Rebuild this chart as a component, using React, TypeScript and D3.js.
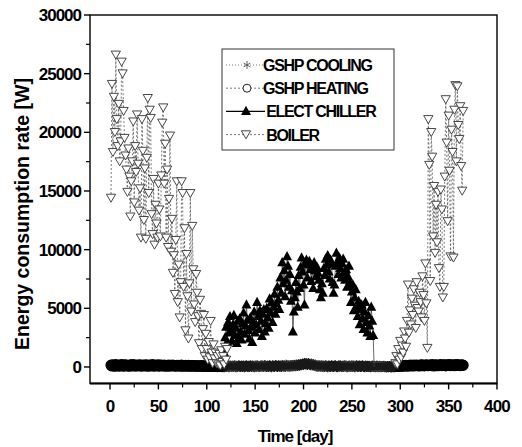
import * as d3 from "d3";

// daily energy consumption rate [W]
const boilerStartA = 1;
const boilerA = [
  14400, 24100, 18300, 23000, 20000, 26600, 21100, 18800, 22400, 17500,
  19200, 26000, 25000, 21800, 19500, 18000, 16800, 14900, 18600, 16200,
  12800, 15800, 17500, 20900, 14000, 18800, 16600, 21500, 17300, 13300,
  15200, 11000, 21100, 18400, 12500, 16900, 10900, 17800, 22900, 14800,
  21900, 21200, 13000, 11300, 16000, 10400, 13800, 12200, 11000, 15600,
  13400, 11100, 16300, 20800, 22100, 15600, 19000, 11000, 16800, 10200,
  14300, 19700, 9800, 12600, 8000, 9500, 6200, 10800, 15800, 5500,
  8700, 4200, 7200, 15800, 14800, 6800, 11800, 3100, 9600, 6000,
  2400, 7100, 14800, 4700, 12000, 8300, 5300, 3800, 7900, 6300,
  4300, 2000, 5700, 4500, 1500, 3200, 4400, 900, 2800, 1500,
  600, 2100, 800, 3900, 1200, 300, 1900, 700, 1200, 300,
  900, 200, 1100, 100, 1400, 400, 900, 200, 1700, 600, 1500,
];
const boilerStartB = 295;
const boilerB = [
  300, 900, 200, 1500, 600, 2200, 800, 1800, 1200, 3000,
  2400, 1700, 3900, 7000, 2900, 4800, 3600, 5800, 4400, 6600,
  5200, 3300, 7200, 5000, 4700, 6300, 5500, 4200, 7700, 6100,
  3900, 8800, 5400, 1600, 21100, 17200, 7300, 20000, 17900, 11100,
  15400, 9700, 13800, 10600, 14900, 8400, 6800, 15100, 13400, 5900,
  6800, 16200, 22800, 19100, 12400, 21400, 16700, 9400, 20200, 18300,
  9300, 21900, 24000, 17500, 23900, 20600, 19400, 22200, 17100, 15000, 21800,
];
const chillerStart = 118;
const chiller = [
  1200, 2500, 3400, 2100, 3800, 2900, 4300, 3100, 2200, 3600,
  4400, 2700, 3300, 2000, 3900, 2500, 4100, 3000, 2300, 3700,
  4600, 2800, 3500, 5300, 4000, 3100, 2400, 4200, 3400, 2100,
  3800, 4700, 2900, 3600, 5500, 4300, 3200, 4800, 3900, 2600,
  4500, 4900, 3000,
  3700, 5000, 4200, 3300, 5800, 4600, 5500, 3800, 5100, 6200,
  4500, 5400, 6800, 5700, 4900, 7600, 6300, 8900, 7100, 8200,
  6000, 7400, 9400, 8600, 6800, 7900, 5600, 6500, 3000, 4700,
  5900, 7200, 6400, 5100, 7800, 6700, 8500, 9300, 8100, 7000,
  5300, 8800, 9100, 7600, 8700, 9000, 8300, 7300, 8600, 6700,
  8900, 8200, 7700, 8500, 8000, 7400, 6600, 5900, 7100, 6300,
  8400, 7800, 9200, 8700, 9500, 8100, 7500, 9100, 8800, 7200,
  6300, 7000, 8600, 9700, 8900, 7900, 9300, 8400, 7600, 8800,
  9200, 8000, 7400, 8300, 6800, 7700, 8600, 7200, 5500, 6400,
  7000, 4800, 5900, 6600, 5100, 4300, 5600, 3600, 4900, 5300,
  4100, 3200, 4700, 5500, 3800, 2900, 4400, 3500, 2600, 5100,
  3900, 2700, 0,
];
const heatingStartA = 1;
const heatingA = [
  150, 90, 180, 120, 60, 200, 140, 100, 170, 80,
  130, 210, 110, 70, 160, 190, 90, 140, 120, 60,
  180, 150, 100, 200, 130, 80, 170, 110, 150, 90,
  190, 120, 70, 160, 140, 100, 180, 130, 60, 170,
  110, 150, 90, 200, 120, 80, 160, 140, 100, 180,
  70, 130, 150, 110, 90, 170, 120, 60, 140, 100,
  160, 80, 130, 110, 150, 90, 120, 70, 140, 100,
  130, 80, 110, 150, 60, 120, 90, 140, 70, 100,
  130, 80, 110, 60, 120, 90, 100, 70, 110, 80,
  60, 100, 90, 70, 120, 50, 80, 100, 60, 90,
  70, 40, 80, 60, 90, 50, 70, 40, 60, 80,
  30, 50, 70, 40, 60, 30, 50,
];
const heatingStartB = 295;
const heatingB = [
  40, 70, 50, 90, 60, 100, 80, 120, 70, 110,
  90, 130, 100, 80, 140, 110, 150, 90, 120, 160,
  100, 130, 170, 110, 140, 90, 150, 180, 120, 160,
  100, 140, 190, 130, 110, 170, 150, 120, 200, 140,
  90, 160, 180, 130, 110, 170, 150, 200, 120, 140,
  190, 160, 100, 180, 130, 150, 210, 120, 170, 140,
  190, 110, 160, 200, 130, 180, 150, 120, 170, 190, 140,
];
const coolingStart = 118;
const cooling = [
  20, 70, 40, 100, 50, 10, 80, 60, 30, 90,
  50, 110, 20, 70, 40, 100, 60, 30, 80, 50,
  90, 20, 60, 110, 40, 70, 30, 100, 50, 80,
  60, 20, 90, 40, 110, 70, 50, 30, 100, 60,
  80, 40, 120, 70, 30, 90, 50, 110, 60, 20,
  100, 70, 40, 130, 80, 50, 110, 60, 90, 30,
  120, 70, 100, 50, 140, 80, 110, 90, 70, 130,
  80, 120, 100, 150, 110, 160, 130, 190, 150, 220,
  180, 260, 210, 300, 250, 270, 220, 290, 230, 200,
  260, 170, 210, 130, 160, 90, 110, 70, 100, 80,
  60, 110, 30, 80, 50, 100, 70, 20, 90, 60,
  40, 110, 70, 30, 80, 100, 50, 20, 90, 60,
  110, 40, 70, 30, 100, 60, 80, 20, 50, 90,
  70, 30, 110, 50, 80, 20, 60, 100, 40, 70,
  90, 30, 60, 110, 50, 20, 80, 40, 70, 30,
  60, 20, 50, 90, 30, 70, 10, 50, 80, 20,
  40, 60, 10, 50, 30, 70, 20, 40, 0, 30, 10, 50, 20, 0, 40, 10, 20,
];

const xMajor = d3.range(0, 401, 50);
const xMinor = d3.range(25, 400, 50);
const yMajor = d3.range(0, 30001, 5000);
const yMinor = d3.range(2500, 30000, 5000);
const legendItems = ["GSHP COOLING", "GSHP HEATING", " ELECT CHILLER", " BOILER"];

type Pt = [number, number];
const toPts = (start: number, vals: number[]): Pt[] => vals.map((v, i) => [start + i, v]);

const W = 522;
const H = 447;
const font = "'Liberation Sans', Arial, sans-serif";

export default function App() {
  const x = d3.scaleLinear().domain([-20.7, 400]).range([90, 497]);
  const y = d3.scaleLinear().domain([-1400, 30000]).range([383.4, 15]);
  const line = d3.line<Pt>().x((d) => x(d[0])).y((d) => y(d[1]));

  const heat = [toPts(heatingStartA, heatingA), toPts(heatingStartB, heatingB)];
  const cool = toPts(coolingStart, cooling);
  const chill = toPts(chillerStart, chiller);
  const boil = [toPts(boilerStartA, boilerA), toPts(boilerStartB, boilerB)];

  const star = (r: number) =>
    `M0,${-r}L0,${r}M${-r * 0.87},${-r * 0.5}L${r * 0.87},${r * 0.5}M${-r * 0.87},${r * 0.5}L${r * 0.87},${-r * 0.5}`;
  const triUp = "M0,-5.6L5,3.6L-5,3.6Z";
  const triDown = "M0,4.2L4.6,-3.8L-4.6,-3.8Z";

  const [x0, x1] = x.range();
  const [yb, yt] = y.range();

  return (
    <svg width={W} height={H} style={{ position: "absolute", left: 0, top: 0, background: "#fff" }}>
      {/* data */}
      <g>
        {heat.map((s, k) => (
          <path key={k} d={line(s) || ""} fill="none" stroke="#000" strokeWidth={1} strokeDasharray="3,2" />
        ))}
        {/* the open circles overlap so densely that the scan shows a solid band */}
        {heat.flat().map((d, i) => (
          <circle key={"h" + i} cx={x(d[0])} cy={y(d[1])} r={5} fill="#000" stroke="#000" strokeWidth={1.2} />
        ))}
        <path d={line(cool) || ""} fill="none" stroke="#333" strokeWidth={0.8} strokeDasharray="1,2" />
        {cool.map((d, i) => (
          <path key={"c" + i} d={star(5.5)} transform={`translate(${x(d[0])},${y(d[1])})`} stroke="#1a1a1a" strokeWidth={1.3} fill="none" />
        ))}
        <path d={line(chill) || ""} fill="none" stroke="#444" strokeWidth={0.8} />
        {chill.slice(0, -1).map((d, i) => (
          <path key={"e" + i} d={triUp} transform={`translate(${x(d[0])},${y(d[1])})`} fill="#000" />
        ))}
        {boil.map((s, k) => (
          <path key={k} d={line(s) || ""} fill="none" stroke="#555" strokeWidth={0.8} strokeDasharray="2,2" />
        ))}
        {boil.flat().map((d, i) => (
          <path key={"b" + i} d={triDown} transform={`translate(${x(d[0])},${y(d[1])})`} fill="#fff" stroke="#333" strokeWidth={0.9} />
        ))}
      </g>

      {/* frame */}
      <rect x={x0} y={yt} width={x1 - x0} height={yb - yt} fill="none" stroke="#000" strokeWidth={1.4} />
      <line x1={x0} x2={x1} y1={yb} y2={yb} stroke="#000" strokeWidth={2} />

      {/* x axis */}
      {xMajor.map((t) => (
        <g key={"xm" + t}>
          <line x1={x(t)} x2={x(t)} y1={yb} y2={yb + 6} stroke="#000" strokeWidth={1.4} />
          <text x={x(t)} y={412} textAnchor="middle" fontFamily={font} fontWeight="bold" fontSize={17} letterSpacing={-0.8}>
            {t}
          </text>
        </g>
      ))}
      {xMinor.map((t) => (
        <line key={"xn" + t} x1={x(t)} x2={x(t)} y1={yb} y2={yb + 4} stroke="#000" strokeWidth={1.2} />
      ))}

      {/* y axis */}
      {yMajor.map((t) => (
        <g key={"ym" + t}>
          <line x1={x0 - 6} x2={x0} y1={y(t)} y2={y(t)} stroke="#000" strokeWidth={1.4} />
          <text x={81} y={y(t) + 6} textAnchor="end" fontFamily={font} fontWeight="bold" fontSize={17} letterSpacing={-1}>
            {t}
          </text>
        </g>
      ))}
      {yMinor.map((t) => (
        <line key={"yn" + t} x1={x0 - 4} x2={x0} y1={y(t)} y2={y(t)} stroke="#000" strokeWidth={1.2} />
      ))}

      <text transform="translate(29,214) rotate(-90)" textAnchor="middle" fontFamily={font} fontWeight="bold" fontSize={19.5}>
        Energy consumption rate [W]
      </text>
      <text x={295} y={442} textAnchor="middle" fontFamily={font} fontWeight="bold" fontSize={17} letterSpacing={-1}>
        Time [day]
      </text>

      {/* legend */}
      <g>
        <rect x={222} y={49} width={172} height={101} fill="#fff" stroke="#333" strokeWidth={1} />
        {legendItems.map((name, i) => {
          const cy = 65 + i * 23.2;
          return (
            <g key={name}>
              <line
                x1={226}
                x2={265}
                y1={cy}
                y2={cy}
                stroke={i === 2 ? "#000" : "#555"}
                strokeWidth={i === 2 ? 1.2 : 0.8}
                strokeDasharray={i === 0 ? "1,2" : i === 2 ? undefined : "2,2"}
              />
              {i === 0 && <path d={star(4)} transform={`translate(247,${cy})`} stroke="#555" strokeWidth={0.9} fill="#fff" />}
              {i === 1 && <circle cx={247} cy={cy} r={4} fill="#fff" stroke="#222" strokeWidth={1} />}
              {i === 2 && <path d={triUp} transform={`translate(246,${cy})`} fill="#000" />}
              {i === 3 && <path d={triDown} transform={`translate(246,${cy})`} fill="#fff" stroke="#333" strokeWidth={0.9} />}
              <text x={263} y={cy + 6} fontFamily={font} fontWeight="bold" fontSize={16} letterSpacing={-1.3} style={{ whiteSpace: "pre" }}>
                {name}
              </text>
            </g>
          );
        })}
      </g>
    </svg>
  );
}
